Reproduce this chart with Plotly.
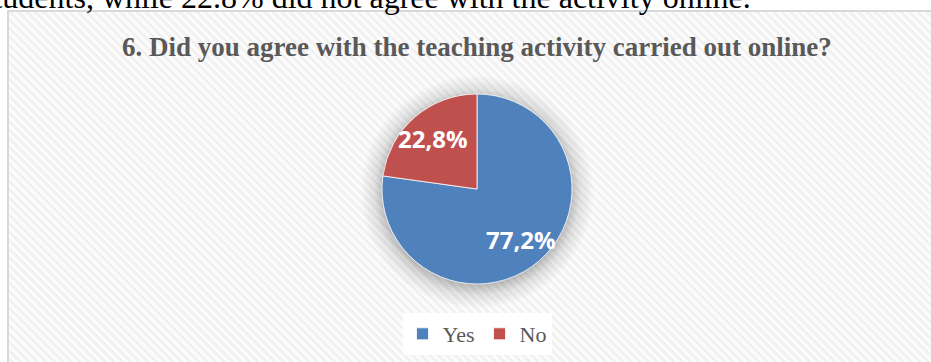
import base64
import math
import plotly.graph_objects as go

# Survey answers for question 6
categories = ["Yes", "No"]
shares = [77.2, 22.8]
colors = ["#4f81bd", "#c0504d"]

title_text = "6. Did you agree with the teaching activity carried out online?"
caption_text = "students, while 22.8% did not agree with the activity online."

W, H = 931, 362
cx, cy, r = 477, 189, 95

# Chart frame: hatched fill, thin grey border and a soft glow behind the pie
svg = f"""<svg xmlns='http://www.w3.org/2000/svg' width='{W}' height='{H}' viewBox='0 0 {W} {H}'>
<defs>
<pattern id='h' patternUnits='userSpaceOnUse' width='6' height='6' patternTransform='rotate(45)'>
<rect width='6' height='6' fill='#fcfcfc'/>
<rect width='6' height='2.6' fill='#f0f0f0'/>
</pattern>
<radialGradient id='g' cx='{cx}' cy='{cy + 3}' r='{r + 22}' gradientUnits='userSpaceOnUse'>
<stop offset='0.78' stop-color='#000' stop-opacity='0.28'/>
<stop offset='0.88' stop-color='#000' stop-opacity='0.10'/>
<stop offset='1' stop-color='#000' stop-opacity='0'/>
</radialGradient>
</defs>
<rect x='0' y='0' width='{W}' height='{H}' fill='#ffffff'/>
<rect x='8' y='11' width='{W + 10}' height='{H + 10}' fill='url(#h)' stroke='#d9d9d9' stroke-width='2'/>
<circle cx='{cx}' cy='{cy + 3}' r='{r + 22}' fill='url(#g)'/>
</svg>"""
bg_src = "data:image/svg+xml;base64," + base64.b64encode(svg.encode()).decode()

fig = go.Figure(
    go.Pie(
        labels=categories,
        values=shares,
        textinfo="none",
        sort=False,
        direction="clockwise",
        rotation=0,
        marker=dict(colors=colors, line=dict(color="#ffffff", width=0.8)),
        hoverinfo="label+percent",
        domain=dict(x=[(cx - r) / W, (cx + r) / W], y=[1 - (cy + r) / H, 1 - (cy - r) / H]),
    )
)

# Percentage labels placed at 70% of the radius along each slice's middle angle
annotations = []
total = sum(shares)
start = 0.0
for v in shares:
    mid = (start + v / 2) / total * 2 * math.pi
    start += v
    px = cx + 0.7 * r * math.sin(mid)
    py = cy - 0.7 * r * math.cos(mid)
    annotations.append(dict(
        text=f"{v:.1f}%".replace(".", ","), xref="paper", yref="paper",
        x=px / W, y=1 - py / H, xanchor="center", yanchor="middle", showarrow=False,
        font=dict(family="Open Sans", size=24, color="#ffffff", weight="bold"),
    ))

annotations += [
    dict(text=f"<b>{title_text}</b>", xref="paper", yref="paper", x=cx / W, y=1 - 47 / H,
         xanchor="center", yanchor="middle", showarrow=False,
         font=dict(family="Liberation Serif", size=27, color="#595959")),
    dict(text=caption_text, xref="paper", yref="paper", x=753 / W, y=1 - 17 / H,
         xanchor="right", yanchor="bottom", showarrow=False,
         font=dict(family="Liberation Serif", size=32, color="#000000")),
]

fig.update_layout(
    width=W,
    height=H,
    margin=dict(l=0, r=0, t=0, b=0),
    paper_bgcolor="#ffffff",
    plot_bgcolor="rgba(0,0,0,0)",
    images=[dict(source=bg_src, xref="paper", yref="paper", x=0, y=1, sizex=1, sizey=1,
                 xanchor="left", yanchor="top", sizing="stretch", layer="below")],
    showlegend=True,
    legend=dict(
        orientation="h",
        x=cx / W, xanchor="center",
        y=1 - 334 / H, yanchor="middle",
        bgcolor="#ffffff",
        font=dict(family="Liberation Serif", size=22, color="#595959"),
        itemwidth=30,
    ),
    annotations=annotations,
)

fig.write_html("out.html")
